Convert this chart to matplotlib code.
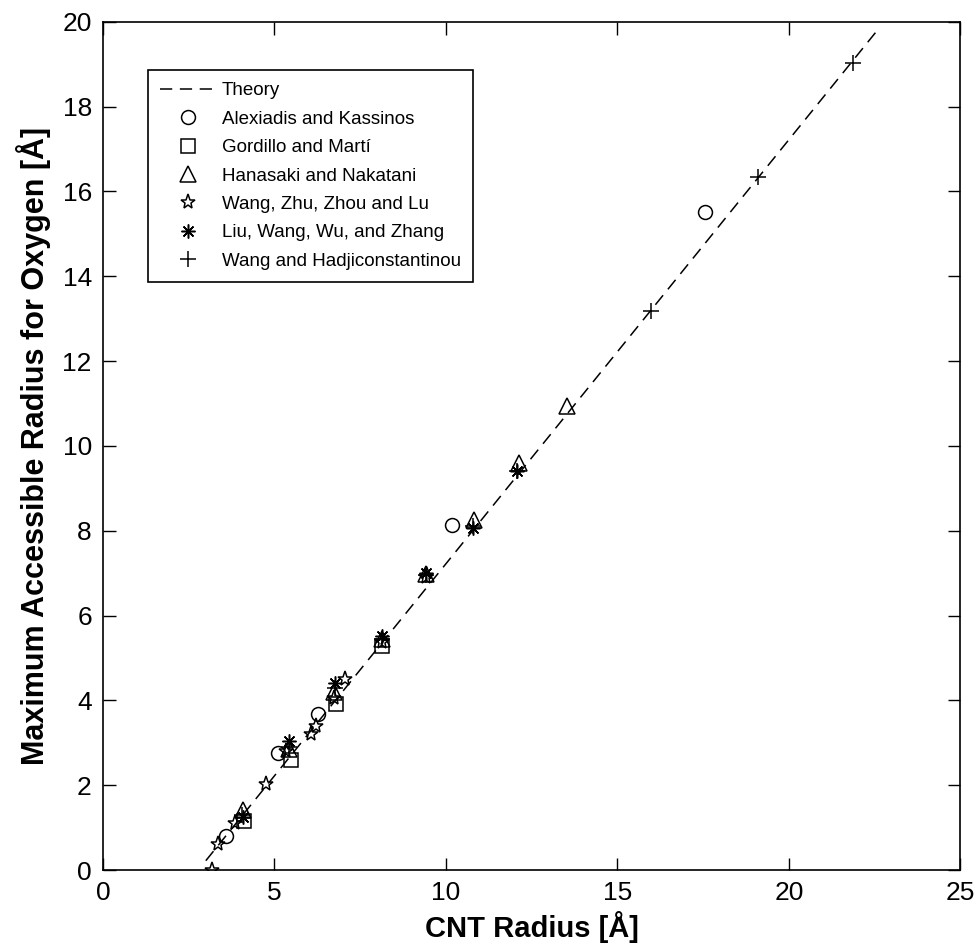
import matplotlib
matplotlib.use('Agg')
import matplotlib.pyplot as plt

plt.rcParams['font.family'] = ['Liberation Sans', 'DejaVu Sans']

# theory line (accessible radius vs CNT radius)
theory_x = [3.0, 22.55]
theory_y = [0.22, 19.77]

# Alexiadis and Kassinos
alex_x = [3.6, 5.1, 6.27, 10.18, 17.55]
alex_y = [0.8, 2.76, 3.68, 8.13, 15.52]

# Gordillo and Martí
gord_x = [4.12, 5.48, 6.81, 8.13]
gord_y = [1.16, 2.6, 3.91, 5.28]

# Hanasaki and Nakatani
hana_x = [4.08, 5.43, 6.75, 8.13, 9.41, 10.82, 12.12, 13.54]
hana_y = [1.42, 2.86, 4.2, 5.45, 6.97, 8.25, 9.6, 10.93]

# Wang, Zhu, Zhou and Lu
wzzl_x = [3.17, 3.37, 3.86, 4.75, 5.35, 6.07, 6.22, 6.75, 7.05, 8.13, 9.41]
wzzl_y = [0.0, 0.62, 1.12, 2.02, 2.8, 3.2, 3.4, 4.05, 4.5, 5.38, 6.9]

# Liu, Wang, Wu, and Zhang
liu_x = [4.08, 5.43, 6.76, 8.13, 9.41, 10.8, 12.07]
liu_y = [1.25, 3.05, 4.4, 5.52, 7.0, 8.06, 9.4]

# Wang and Hadjiconstantinou
wh_x = [4.05, 5.43, 6.76, 8.13, 9.41, 10.8, 12.07, 15.97, 19.09, 21.86]
wh_y = [1.3, 2.9, 4.3, 5.45, 6.95, 8.1, 9.4, 13.17, 16.34, 19.03]

xticks = [0, 5, 10, 15, 20, 25]
yticks = [0, 2, 4, 6, 8, 10, 12, 14, 16, 18, 20]

fig = plt.figure(figsize=(9.8, 9.46), dpi=100)
ax = fig.add_axes([0.105, 0.0803, 0.875, 0.8967])

ax.plot(theory_x, theory_y, color='black', linewidth=1.1, dashes=(8, 5),
        label='Theory')

mk = dict(linestyle='none', markerfacecolor='none', markeredgecolor='black',
          markeredgewidth=1.1, color='black')
ax.plot(alex_x, alex_y, marker='o', markersize=10, label='Alexiadis and Kassinos', **mk)
ax.plot(gord_x, gord_y, marker='s', markersize=10, label='Gordillo and Martí', **mk)
ax.plot(hana_x, hana_y, marker='^', markersize=11, label='Hanasaki and Nakatani', **mk)
ax.plot(wzzl_x, wzzl_y, marker='*', markersize=11, label='Wang, Zhu, Zhou and Lu', **mk)
ax.plot(liu_x, liu_y, marker=(8, 2, 0), markersize=10, label='Liu, Wang, Wu, and Zhang', **mk)
ax.plot(wh_x, wh_y, marker='+', markersize=12, label='Wang and Hadjiconstantinou', **mk)

ax.set_xlim(0, 25)
ax.set_ylim(0, 20)
ax.set_xticks(xticks)
ax.set_yticks(yticks)
ax.tick_params(direction='in', length=9, width=1, top=True, right=True,
               labelsize=19, pad=8)
for s in ax.spines.values():
    s.set_linewidth(1.2)

ax.set_xlabel('CNT Radius [Å]', fontsize=21, fontweight='bold', labelpad=4)
ax.set_ylabel('Maximum Accessible Radius for Oxygen [Å]', fontsize=22,
              fontweight='bold', labelpad=8)

leg = ax.legend(loc='upper left', bbox_to_anchor=(0.0525, 0.943),
                borderaxespad=0, fontsize=13.5, labelspacing=0.6,
                handlelength=3.0, handletextpad=0.3, borderpad=0.65,
                fancybox=False, framealpha=1, edgecolor='black')
leg.get_frame().set_linewidth(1.2)

fig.savefig('out.png', dpi=100)
